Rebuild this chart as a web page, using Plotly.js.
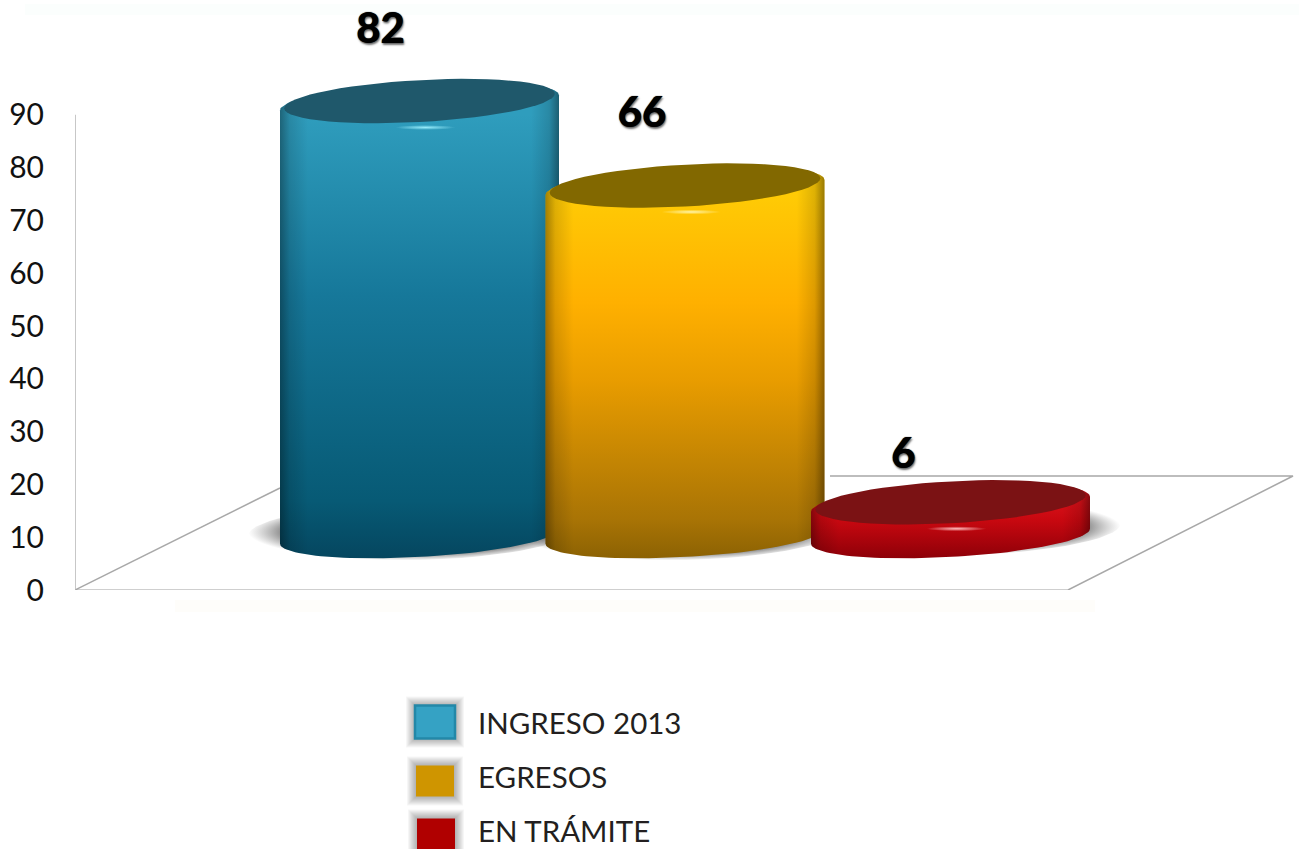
<!DOCTYPE html>
<html><head><meta charset="utf-8">
<script src="https://cdn.plot.ly/plotly-3.0.1.min.js"></script>
<style>html,body{margin:0;padding:0;background:#fff}#c{width:1299px;height:849px}</style>
</head><body><div id="c"></div>
<script>
const categories = ["INGRESO 2013", "EGRESOS", "EN TRÁMITE"];
const values = [82, 66, 6];
const tickValues = [0, 10, 20, 30, 40, 50, 60, 70, 80, 90];

const W = 1299, H = 849, mL = 75, y0px = 590, pxPerY = 5.28, pxPerX = 265.5, cx1px = 419.5;
const X = p => (p - cx1px) / pxPerX + 1;
const Y = p => (y0px - p) / pxPerY;
const dx = p => p / pxPerX, dy = p => p / pxPerY;
const BASE = dy(54), A = dx(139.5), B = dy(21), SHEAR = dy(7.5);
const styles = [
  {body:[[0,'#05465f'],[0.12,'#075a75'],[0.55,'#16789a'],[0.93,'#2f9dbd'],[1,'#2f9dbd']], top:'#1f586b', glow:'rgba(150,235,250,1)'},
  {body:[[0,'#8c6203'],[0.1,'#a97405'],[0.45,'#e89c00'],[0.65,'#ffb000'],[0.93,'#ffcb05'],[1,'#ffcb05']], top:'#826800', glow:'rgba(255,245,170,1)'},
  {body:[[0,'#8e0008'],[0.5,'#c80810'],[1,'#e81820']], top:'#7b1214', glow:'rgba(255,190,190,1)'}
];
const arc = (cx, cy, a, b, t0, t1, sh) => {
  const xs = [], ys = [], k = sh === undefined ? SHEAR : sh;
  for (let i = 0; i <= 60; i++) {
    const t = t0 + (t1 - t0) * i / 60;
    xs.push(cx + a * Math.cos(t));
    ys.push(cy + b * Math.sin(t) + k * (a / A) * Math.cos(t));
  }
  return [xs, ys];
};
const fillTrace = (xs, ys, extra) => Object.assign({
  type:'scatter', mode:'lines', x:xs, y:ys, fill:'toself', line:{width:0}, hoverinfo:'skip', showlegend:false
}, extra);
const traces = [];

// floor and wall
traces.push({type:'scatter', mode:'lines', x:[1068, 1293, 830, NaN, 75, 280].map(X), y:[590, 476, 476, NaN, 590, 488].map(Y), line:{color:'#a8a8a8', width:1.5}, hoverinfo:'skip', showlegend:false});
traces.push({type:'scatter', mode:'lines', x:[75, 1068].map(X), y:[590.5, 590.5].map(Y), line:{color:'#a0a0a0', width:2}, hoverinfo:'skip', showlegend:false, cliponaxis:false});
traces.push({type:'scatter', mode:'lines', x:[X(75), X(75)], y:[0, 90], line:{color:'#b5b5b5', width:1.5}, hoverinfo:'skip', showlegend:false});

// shadows
values.forEach((v, i) => {
  const cx = i + 1 + dx(i === 2 ? 7 : -8);
  const [xs, ys] = arc(cx, BASE + dy(i === 2 ? 9 : 4), A * 1.17, B * 1.35, 0, 2 * Math.PI, dy(3));
  traces.push(fillTrace(xs, ys, {fillgradient:{type:'radial', colorscale:[[0,'rgba(50,50,50,0.9)'],[0.72,'rgba(60,60,60,0.85)'],[1,'rgba(110,110,110,0)']]}}));
});

// cylinders
values.forEach((v, i) => {
  const cx = i + 1, top = BASE + v, s = styles[i];
  const [tx, ty] = arc(cx, top, A, B, 0, Math.PI);
  const [bx, by] = arc(cx, BASE, A, B, Math.PI, 2 * Math.PI);
  const xs = tx.concat(bx, [tx[0]]), ys = ty.concat(by, [ty[0]]);
  traces.push(fillTrace(xs, ys, {fillgradient:{type:'vertical', colorscale:s.body}}));
  traces.push(fillTrace(xs, ys, {fillgradient:{type:'horizontal', colorscale:[[0,'rgba(0,0,0,0.36)'],[0.035,'rgba(0,0,0,0.13)'],[0.1,'rgba(0,0,0,0)'],[0.9,'rgba(0,0,0,0)'],[0.965,'rgba(0,0,0,0.13)'],[1,'rgba(0,0,0,0.4)']]}}));
  const [ex, ey] = arc(cx, top + dy(2), A * 0.97, B * 1.0, 0, 2 * Math.PI);
  traces.push(fillTrace(ex, ey, {fillcolor:s.top}));
  // highlight below the rim
  const hx = cx + dx(6), hy = top - B - dy(3.5);
  const [gx, gy] = arc(hx, hy, dx(30), dy(2.5), 0, 2 * Math.PI, 0);
  traces.push(fillTrace(gx, gy, {fillgradient:{type:'radial', colorscale:[[0, s.glow],[1, s.glow.replace(',1)', ',0)')]]}}));
});

// value labels
const labelOffX = [-39, -43, -47].map(dx);
const labelOffY = [71, 71, 47].map(dy);
traces.push({type:'scatter', mode:'text', x:values.map((v, i) => i + 1 + labelOffX[i]), y:values.map((v, i) => BASE + v + labelOffY[i]),
  text:values.map(String), textposition:'middle center', cliponaxis:false, hoverinfo:'skip', showlegend:false,
  textfont:{family:'Lato, sans-serif', size:42, weight:900, color:'#000', shadow:'0 0 1px #000, 1px 2px 2px rgba(0,0,0,0.55)'}});

// legend swatches and faint backdrop bands
const shapes = [
  {type:'rect', xref:'paper', yref:'paper', x0:(175-mL)/(W-mL), x1:(1095-mL)/(W-mL), y0:(y0px-600)/y0px, y1:(y0px-612)/y0px, line:{width:0}, fillcolor:'#fefdfa', layer:'below'},
  {type:'rect', xref:'paper', yref:'paper', x0:(25-mL)/(W-mL), x1:1, y0:(y0px-4)/y0px, y1:(y0px-15)/y0px, line:{width:0}, fillcolor:'#fbfefd', layer:'below'}
];
const swatchCx = [435, 435, 436], swatchCy = [722, 781, 834], swatchW = [40, 38, 38], swatchH = [33, 31, 31];
const swatchFill = ['#35a2c4', '#cf9500', '#b00000'];
const annotations = [];
const pxX = p => (p - mL) / (W - mL), pxY = p => (y0px - p) / y0px;
categories.forEach((c, i) => {
  [9, 8, 7, 6, 5, 4, 3, 2, 1].forEach(g => shapes.push({type:'rect', xref:'paper', yref:'paper',
    x0:pxX(swatchCx[i] - swatchW[i]/2 - g), x1:pxX(swatchCx[i] + swatchW[i]/2 + g),
    y0:pxY(swatchCy[i] + swatchH[i]/2 + g), y1:pxY(swatchCy[i] - swatchH[i]/2 - g),
    line:{width:0}, fillcolor:'rgba(0,0,0,0.035)'}));
  shapes.push({type:'rect', xref:'paper', yref:'paper',
    x0:pxX(swatchCx[i] - swatchW[i]/2), x1:pxX(swatchCx[i] + swatchW[i]/2),
    y0:pxY(swatchCy[i] + swatchH[i]/2), y1:pxY(swatchCy[i] - swatchH[i]/2),
    line:{width: i === 0 ? 2.5 : 0, color:'#2388a8'}, fillcolor:swatchFill[i]});
  annotations.push({xref:'paper', yref:'paper', x:pxX(476), y:pxY(722 + i * 54), xanchor:'left', yanchor:'middle',
    text:c, showarrow:false, font:{family:'Lato, sans-serif', size:29.5, color:'#231f20'}});
});

const layout = {
  width:W, height:H, margin:{l:mL, r:0, t:0, b:H - y0px}, paper_bgcolor:'#fff', plot_bgcolor:'rgba(0,0,0,0)',
  showlegend:false, hovermode:false, shapes, annotations,
  xaxis:{range:[X(mL), X(W)], showgrid:false, zeroline:false, showticklabels:false, ticks:'', showline:false, fixedrange:true},
  yaxis:{range:[0, y0px / pxPerY], tickvals:tickValues, ticktext:tickValues.map(String), showgrid:false, zeroline:false, showline:false, ticks:'',
    ticklabelstandoff:30, tickfont:{family:'Lato, sans-serif', size:30, color:'#111'}, fixedrange:true}
};
Plotly.newPlot('c', traces, layout, {displayModeBar:false, staticPlot:true});
</script></body></html>
